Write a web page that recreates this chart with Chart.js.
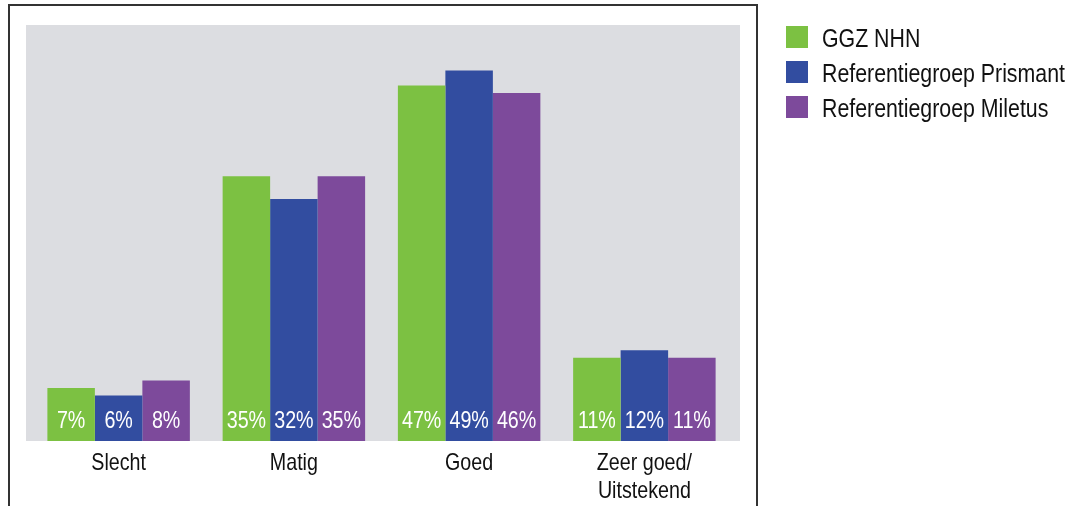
<!DOCTYPE html>
<html>
<head>
<meta charset="utf-8">
<script src="https://cdn.jsdelivr.net/npm/chart.js"></script>
<style>
  html, body { margin: 0; padding: 0; background: #fff; }
  #wrap { width: 1087px; height: 506px; position: relative; }
</style>
</head>
<body>
<div id="wrap"><canvas id="myChart" width="1087" height="506"></canvas></div>
<script>
var categories = [['Slecht'], ['Matig'], ['Goed'], ['Zeer goed/', 'Uitstekend']];
var seriesNames = ['GGZ NHN', 'Referentiegroep Prismant', 'Referentiegroep Miletus'];
var ggzNhn = [7, 35, 47, 11];
var prismant = [6, 32, 49, 12];
var miletus = [8, 35, 46, 11];
var colors = ['#7cc142', '#324da0', '#7d4a9b'];

var FONT = '"Liberation Sans", Arial, sans-serif';
var SQUEEZE = 0.82; // narrow look of the original typeface

// text drawn with a horizontal squeeze to mimic the condensed font
function narrowText(c, txt, x, y, align) {
  c.save();
  c.translate(x, y);
  c.scale(SQUEEZE, 1);
  c.textAlign = align;
  c.fillText(txt, 0, 0);
  c.restore();
}

var frame = {
  id: 'frame',
  beforeDraw: function (chart) {
    var c = chart.ctx, a = chart.chartArea;
    c.save();
    c.fillStyle = '#dcdde1';
    c.fillRect(a.left - 5, a.top, a.right - a.left + 13, a.bottom - a.top);
    c.strokeStyle = '#333333';
    c.lineWidth = 2;
    c.strokeRect(9, 5, 748, 520);
    c.restore();
  },
  afterDatasetsDraw: function (chart) {
    var c = chart.ctx, a = chart.chartArea;
    c.save();
    c.textBaseline = 'alphabetic';
    // value labels inside the bars
    c.font = '24px ' + FONT;
    c.fillStyle = '#ffffff';
    chart.data.datasets.forEach(function (ds, i) {
      chart.getDatasetMeta(i).data.forEach(function (bar, j) {
        narrowText(c, ds.data[j] + '%', bar.x, a.bottom - 13, 'center');
      });
    });
    // category labels, placed with the x scale
    var xs = chart.scales.x;
    c.font = '24px ' + FONT;
    c.fillStyle = '#111111';
    categories.forEach(function (lines, j) {
      var x = xs.getPixelForValue(j);
      lines.forEach(function (ln, k) {
        narrowText(c, ln, x, 470 + k * 28, 'center');
      });
    });
    // legend
    c.font = '26px ' + FONT;
    seriesNames.forEach(function (name, i) {
      var y = 26 + i * 35;
      c.fillStyle = colors[i];
      c.fillRect(786, y, 22, 22);
      c.fillStyle = '#111111';
      narrowText(c, name, 822, y + 21, 'left');
    });
    c.restore();
  }
};

var ctx = document.getElementById('myChart').getContext('2d');
var chart = new Chart(ctx, {
  type: 'bar',
  data: {
    labels: categories,
    datasets: [
      { label: seriesNames[0], data: ggzNhn, backgroundColor: colors[0] },
      { label: seriesNames[1], data: prismant, backgroundColor: colors[1] },
      { label: seriesNames[2], data: miletus, backgroundColor: colors[2] }
    ]
  },
  options: {
    responsive: false,
    animation: false,
    layout: { padding: { left: 31, right: 355, top: 25, bottom: 0 } },
    datasets: { bar: { categoryPercentage: 0.813, barPercentage: 1.0 } },
    plugins: { legend: { display: false }, tooltip: { enabled: false } },
    scales: {
      x: {
        grid: { display: false },
        border: { display: false },
        ticks: { display: false },
        afterFit: function (scale) { scale.height = 65; }
      },
      y: { display: false, min: 0, max: 55 }
    }
  },
  plugins: [frame]
});
</script>
</body>
</html>
